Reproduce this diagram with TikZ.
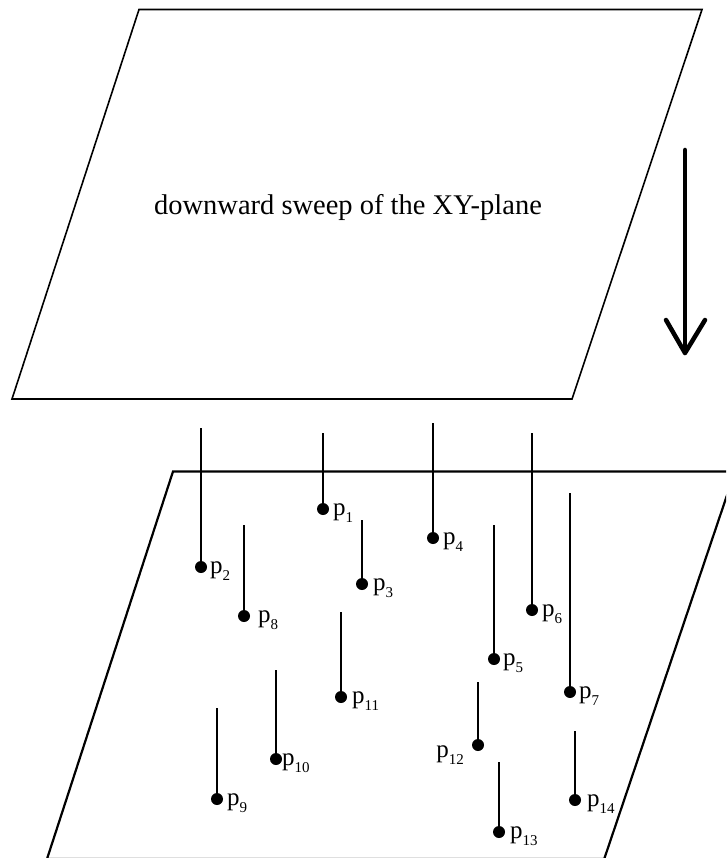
\documentclass[tikz,border=0pt]{standalone}
\usepackage{fontspec}
\setmainfont{Liberation Serif}
\newcommand{\plbl}[1]{\fontsize{25}{25}\selectfont p\raisebox{-0.3em}{\fontsize{15}{15}\selectfont #1}}
\begin{document}
\begin{tikzpicture}[x=1pt,y=-1pt,
  plane/.style={line width=1.6pt, line join=miter},
  lowplane/.style={line width=2.2pt, line join=miter},
  dot/.style={circle, fill=black, inner sep=0pt, minimum size=12pt},
  stem/.style={line width=1.5pt},
  plab/.style={anchor=base west, inner sep=0pt},
  sweep/.style={line width=4.5pt, line cap=round, line join=round}]
\useasboundingbox (0,0) rectangle (726,858);
% upper plane
\coordinate (a1) at (139,9.5);
\coordinate (a2) at (702,9.5);
\coordinate (a3) at (572,399);
\coordinate (a4) at (12,399);
\draw[plane] (a1) -- (a2) -- (a3) -- (a4) -- cycle;
\node[anchor=base, inner sep=0pt, font=\fontsize{28.5}{30}\selectfont] (title) at (348,215) {downward sweep of the XY-plane};
% arrow
\coordinate (s0) at (685,150);
\coordinate (s1) at (685,353);
\coordinate (sl) at (666,320);
\coordinate (sr) at (705,320);
\draw[sweep] (s0) -- (s1);
\draw[sweep] (sl) -- (s1) -- (sr);
% lower plane
\coordinate (b1) at (173,471.5);
\coordinate (b2) at (735,471.5);
\coordinate (b3) at (604.2,859);
\coordinate (b4) at (47,859);
\begin{scope}
\clip (0,0) rectangle (726,858);
\draw[lowplane] (b1) -- (b2) -- (b3) -- (b4) -- cycle;
\end{scope}
% points
\foreach \i/\x/\y/\t/\d in {1/323/509/433/10, 2/201/567/428/9, 3/362/584/520/11, 4/433/538/423/10,
  5/494/659/525/9, 6/532/610/433/10, 7/570/692/493/9, 8/244/616/525/14, 9/217/799/708/10,
  10/276/759/670/6, 11/341/697/612/11, 13/499/832/762/11, 14/575/800/731/12}{
  \coordinate (t\i) at (\x,\t);
  \node[dot] (p\i) at (\x,\y) {};
  \draw[stem] (t\i) -- (p\i.center);
  \node[plab] (l\i) at (\x+\d,\y+6) {\plbl{\i}};
}
\coordinate (t12) at (478,682);
\node[dot] (p12) at (478,745) {};
\draw[stem] (t12) -- (p12.center);
\node[anchor=base east, inner sep=0pt] (l12) at (464,757) {\plbl{12}};
\end{tikzpicture}
\end{document}
